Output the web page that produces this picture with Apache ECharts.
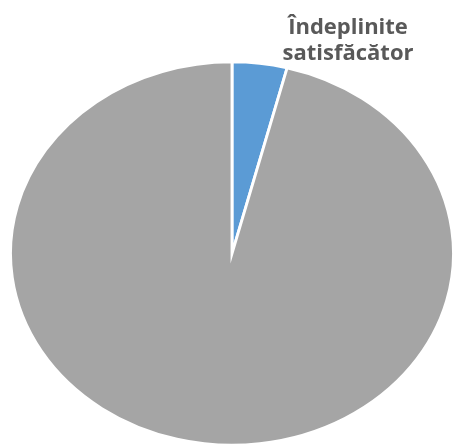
<!DOCTYPE html>
<html>
<head>
<meta charset="utf-8">
<script src="https://cdn.jsdelivr.net/npm/echarts@6/dist/echarts.min.js"></script>
<style>
  html, body { margin: 0; padding: 0; background: #fff; }
  #chart { width: 454px; height: 445px; }
</style>
</head>
<body>
<div id="chart"></div>
<script>
// Share of objectives by fulfilment status
const categories = ['Îndeplinite satisfăcător', 'Neîndeplinite'];
const values = [4, 96];
const colors = ['#5B9BD5', '#A5A5A5'];
const showLabel = [true, false];

const total = values.reduce((a, b) => a + b, 0);
const starts = [];
values.reduce((acc, v, i) => { starts[i] = acc; return acc + v; }, 0);

// Elliptical pie geometry
const CX = 232, CY = 253.5, RY = 191.5, RX = 221.5;

const chart = echarts.init(document.getElementById('chart'), null, { renderer: 'canvas' });

chart.setOption({
  animation: false,
  xAxis: { show: false, type: 'value' },
  yAxis: { show: false, type: 'value' },
  grid: { left: 0, right: 0, top: 0, bottom: 0 },
  series: [{
    type: 'custom',
    coordinateSystem: 'none',
    data: values.map((v, i) => ({ name: categories[i], value: v })),
    renderItem: function (params, api) {
      const i = params.dataIndex;
      const v = api.value(0);
      const a0 = -Math.PI / 2 + (starts[i] / total) * Math.PI * 2;
      const a1 = a0 + (v / total) * Math.PI * 2;
      const children = [{
        type: 'sector',
        x: CX, y: CY,
        scaleX: RX / RY, scaleY: 1,
        shape: { cx: 0, cy: 0, r0: 0, r: RY, startAngle: a0, endAngle: a1, clockwise: true },
        style: { fill: colors[i], stroke: '#ffffff', lineWidth: 2.5, strokeNoScale: true }
      }];
      if (showLabel[i]) {
        children.push({
          type: 'text',
          x: 348, y: 41,
          style: {
            text: categories[i].replace(' ', '\n'),
            fill: '#595959',
            font: 'bold 22px "Open Sans", sans-serif',
            lineHeight: 26,
            align: 'center',
            verticalAlign: 'middle'
          }
        });
      }
      return { type: 'group', children: children };
    }
  }]
});
</script>
</body>
</html>
